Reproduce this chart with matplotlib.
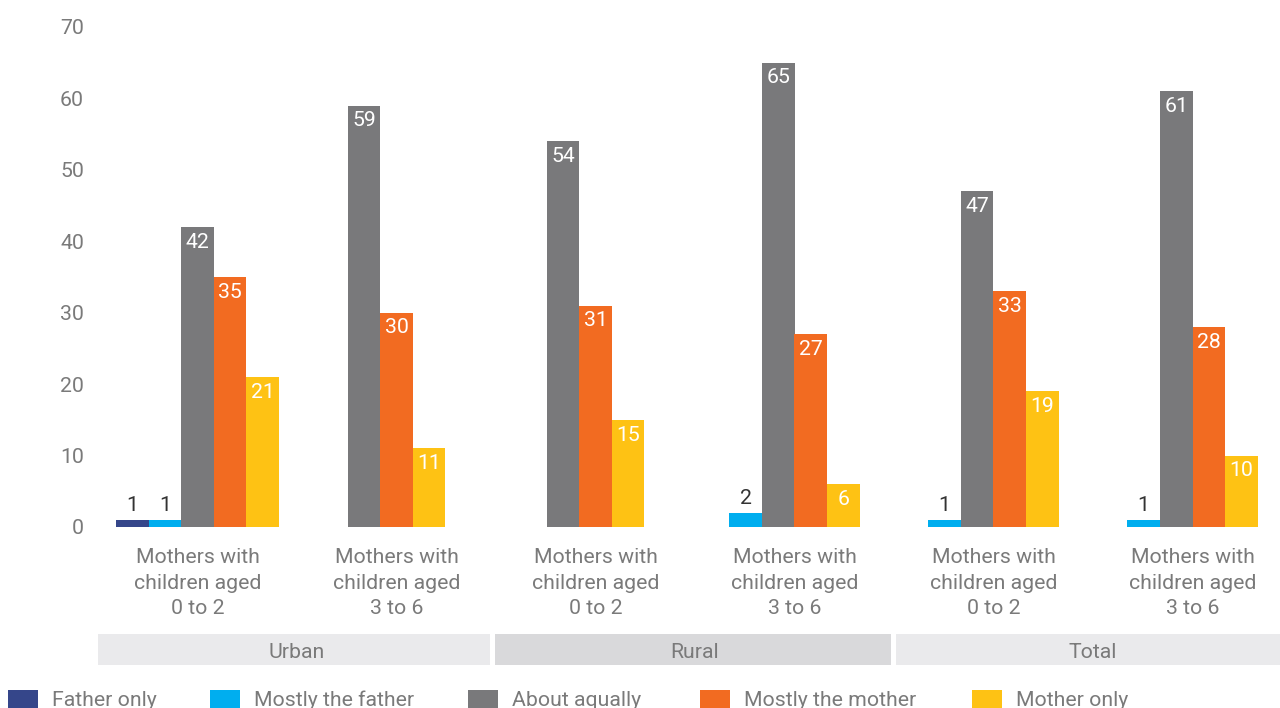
import numpy as np
import matplotlib.pyplot as plt
from matplotlib.patches import Rectangle
import matplotlib.transforms as mtransforms

plt.rcParams['font.family'] = ['Roboto', 'DejaVu Sans']
plt.rcParams['font.weight'] = 'normal'

series = ['Father only', 'Mostly the father', 'About aqually',
          'Mostly the mother', 'Mother only']
colors = ['#35468a', '#00aeef', '#79797b', '#f26b21', '#fec214']

groups = ['Mothers with\nchildren aged\n0 to 2', 'Mothers with\nchildren aged\n3 to 6'] * 3
areas = ['Urban', 'Rural', 'Total']

father_only = [1, 0, 0, 0, 0, 0]
mostly_father = [1, 0, 0, 2, 1, 1]
about_equal = [42, 59, 54, 65, 47, 61]
mostly_mother = [35, 30, 31, 27, 33, 28]
mother_only = [21, 11, 15, 6, 19, 10]
values = np.array([father_only, mostly_father, about_equal, mostly_mother, mother_only])

grey = '#7a7a7a'
fs = 15.3

fig = plt.figure(figsize=(12.8, 7.08), dpi=100)
ax = fig.add_axes([98 / 1280, 181 / 708, 1182 / 1280, 500 / 708])

x = np.arange(len(groups))
w = 0.164

# bars with no value are left out and the rest of the group stays centred
for g in x:
    present = [i for i in range(len(series)) if values[i, g] > 0]
    n = len(present)
    for j, i in enumerate(present):
        v = values[i, g]
        px = g + (j - (n - 1) / 2) * w
        ax.bar(px, v, width=w, color=colors[i])
        if v < 5:
            ax.annotate(str(v), (px, v), xytext=(0, 10), textcoords='offset points',
                        ha='center', va='center', fontsize=fs, color='#333333')
        else:
            ax.annotate(str(v), (px, v), xytext=(0, -11), textcoords='offset points',
                        ha='center', va='center', fontsize=fs, color='white')

ax.set_xlim(-0.5, -0.5 + 1182 / 199)
ax.set_ylim(0, 70)
ax.set_yticks(range(0, 71, 10))
ax.set_xticks(x)
ax.set_xticklabels(groups, fontsize=fs, color=grey, linespacing=1.45)
ax.tick_params(axis='y', length=0, pad=10, labelsize=fs, labelcolor=grey)
ax.tick_params(axis='x', length=0, pad=15)
for s in ax.spines.values():
    s.set_visible(False)

# area bands under the group labels
trans = mtransforms.blended_transform_factory(ax.transData, ax.transAxes)
band_colors = ['#eaeaec', '#d9d9db', '#eaeaec']
band_edges = [(-0.5, 1.47), (1.495, 3.485), (3.51, 5.6)]
for k, (name, bc, (left, right)) in enumerate(zip(areas, band_colors, band_edges)):
    ax.add_patch(Rectangle((left, -0.276), right - left, 0.062, transform=trans,
                           facecolor=bc, edgecolor='none', clip_on=False))
    ax.text(2 * k + 0.5, -0.251, name, transform=trans, ha='center', va='center',
            fontsize=fs, color=grey)

# legend row along the bottom edge
legend_x = [8, 210, 468, 700, 972]
for lx, name, c in zip(legend_x, series, colors):
    fig.patches.append(Rectangle((lx / 1280, 0), 30 / 1280, 18 / 708,
                                 transform=fig.transFigure, facecolor=c,
                                 edgecolor='none'))
    fig.text((lx + 44) / 1280, 8 / 708, name, ha='left', va='center',
             fontsize=fs, color=grey)

fig.savefig('out.png', dpi=100)
